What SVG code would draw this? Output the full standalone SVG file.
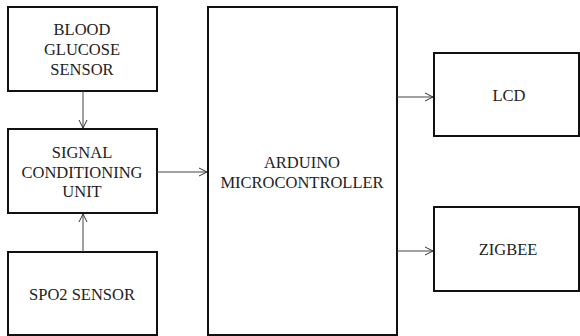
<svg xmlns="http://www.w3.org/2000/svg" width="580" height="336" viewBox="0 0 580 336">
<defs>
<marker id="arr" markerWidth="10" markerHeight="10" refX="9" refY="5" orient="auto" markerUnits="userSpaceOnUse">
<path d="M1,1 L9,5 L1,9" fill="none" stroke="#333" stroke-width="1"/>
</marker>
</defs>
<style>
.box{fill:#fff;stroke:#111;stroke-width:2}
.t{font-size:16.5px;fill:#222;text-anchor:middle}
.c{stroke:#444;stroke-width:1;fill:none;marker-end:url(#arr)}
</style>
<rect width="580" height="336" fill="#fff"/>
<g font-family="Liberation Serif, Times New Roman, DejaVu Serif, serif">
<g id="blood">
<rect class="box" x="8" y="7" width="149" height="84"/>
<text class="t" x="82" y="35">BLOOD</text>
<text class="t" x="82" y="55">GLUCOSE</text>
<text class="t" x="82" y="75">SENSOR</text>
</g>
<g id="signal">
<rect class="box" x="8" y="129" width="149" height="84"/>
<text class="t" x="82" y="158">SIGNAL</text>
<text class="t" x="82" y="178">CONDITIONING</text>
<text class="t" x="82" y="197">UNIT</text>
</g>
<g id="spo2">
<rect class="box" x="8" y="252" width="149" height="83"/>
<text class="t" x="82" y="300">SPO2 SENSOR</text>
</g>
<g id="arduino">
<rect class="box" x="208" y="7" width="189" height="328"/>
<text class="t" x="302" y="168">ARDUINO</text>
<text class="t" x="302" y="188">MICROCONTROLLER</text>
</g>
<g id="lcd">
<rect class="box" x="434" y="53" width="145" height="83"/>
<text class="t" x="509" y="101">LCD</text>
</g>
<g id="zigbee">
<rect class="box" x="434" y="207" width="145" height="84"/>
<text class="t" x="508" y="255">ZIGBEE</text>
</g>
</g>
<g id="connectors">
<line class="c" x1="83" y1="91" x2="83" y2="128"/>
<line class="c" x1="83" y1="252" x2="83" y2="214"/>
<line class="c" x1="157" y1="172" x2="207" y2="172"/>
<line class="c" x1="397" y1="97" x2="433" y2="97"/>
<line class="c" x1="397" y1="251" x2="433" y2="251"/>
</g>
</svg>
